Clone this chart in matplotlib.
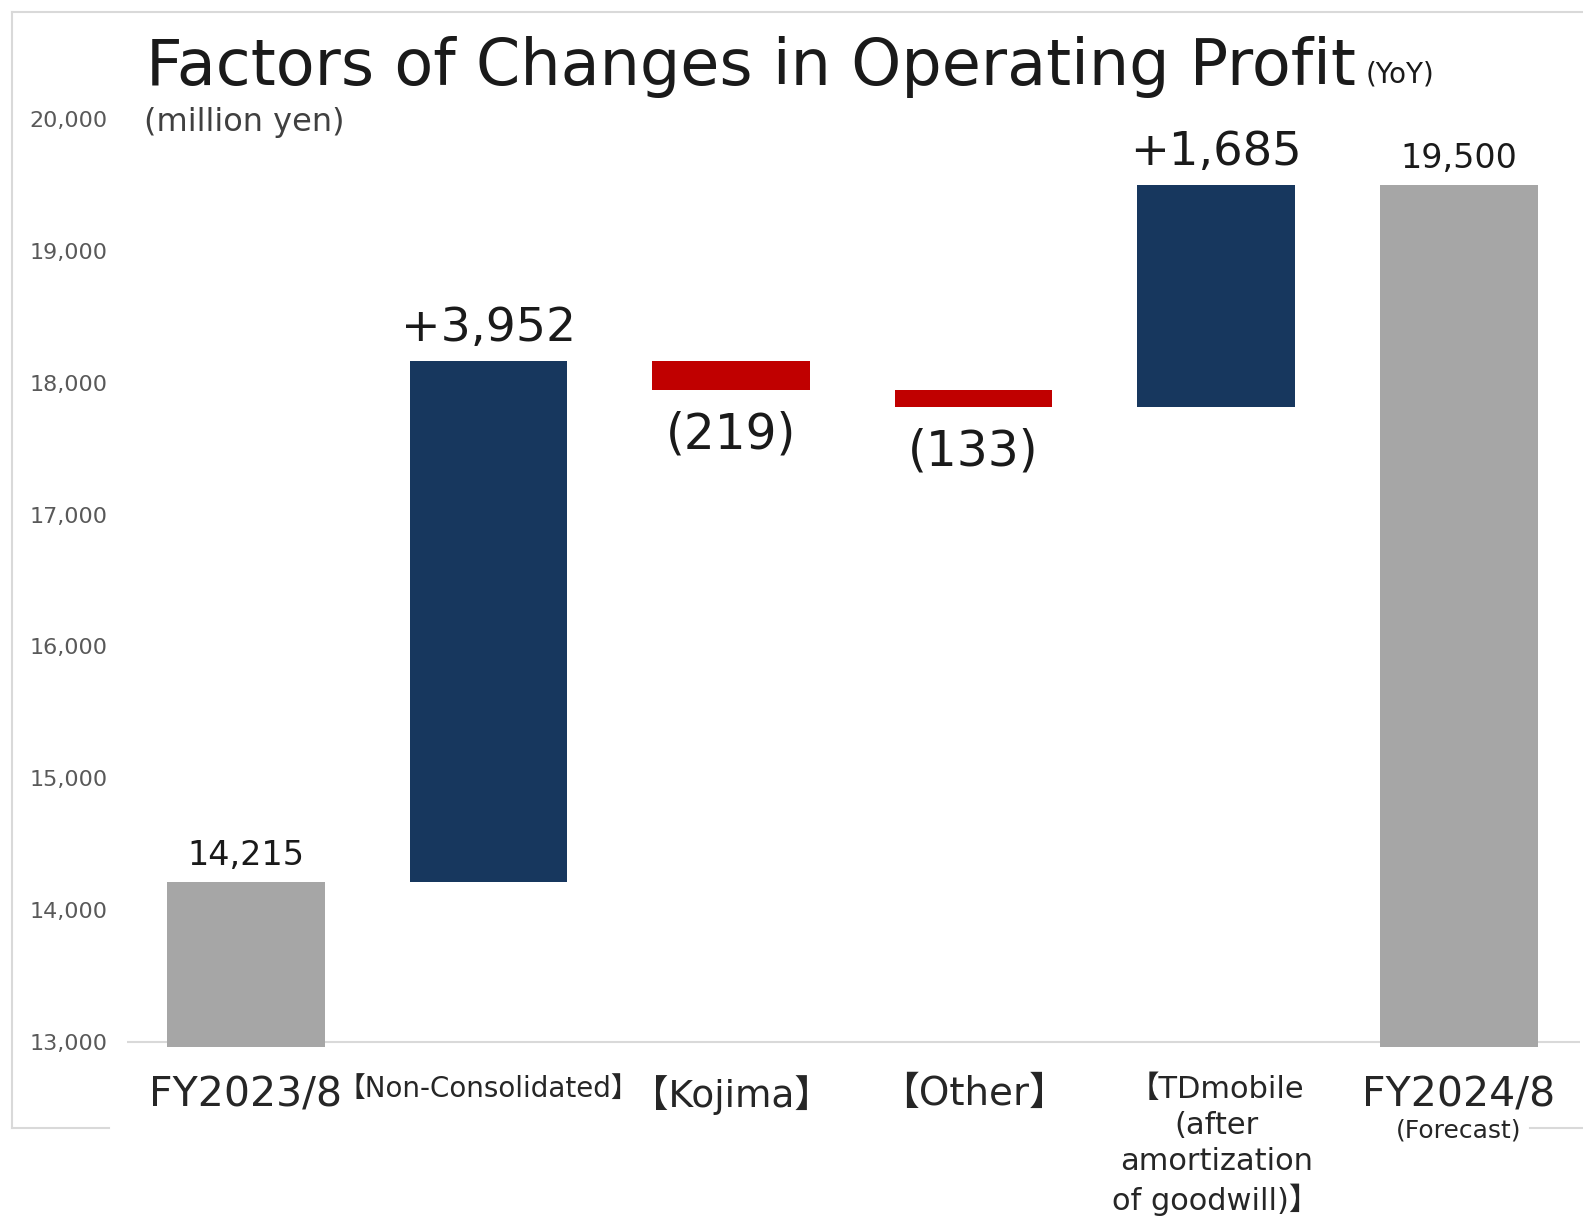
import numpy as np
import matplotlib
matplotlib.use('Agg')
import matplotlib.pyplot as plt
from matplotlib.lines import Line2D

plt.rcParams['font.family'] = ['DejaVu Sans', 'Noto Sans CJK JP']

# data
categories = ['FY2023/8', '【Non-Consolidated】', '【Kojima】', '【Other】',
              '【TDmobile\n(after\namortization\nof goodwill)】', 'FY2024/8']
start_value = 14215
changes = [3952, -219, -133, 1685]
end_value = 19500
value_labels = ['14,215', '+3,952', '(219)', '(133)', '+1,685', '19,500']
yticks = [13000, 14000, 15000, 16000, 17000, 18000, 19000, 20000]

GRAY = '#a6a6a6'
NAVY = '#17375e'
RED = '#c00000'

W, H = 1583, 1217
fig = plt.figure(figsize=(W / 100, H / 100), dpi=100)

def px(x, y):
    return x / W, 1 - y / H

ymin, ymax = 12960, 20000
ax_left, ax_right = 127, 1580
ax_top = 119
ax_bottom = 1042 + (13000 - ymin) * (1042 - 119) / 7000
ax = fig.add_axes([ax_left / W, 1 - ax_bottom / H, (ax_right - ax_left) / W, (ax_bottom - ax_top) / H])

# waterfall bottoms / heights
x = np.arange(len(categories))
running = np.cumsum([start_value] + changes)
bottoms, heights, colors = [ymin], [start_value - ymin], [GRAY]
for i, c in enumerate(changes):
    lo = min(running[i], running[i + 1])
    bottoms.append(lo)
    heights.append(abs(c))
    colors.append(NAVY if c > 0 else RED)
bottoms.append(ymin)
heights.append(end_value - ymin)
colors.append(GRAY)

ax.bar(x, heights, bottom=bottoms, width=0.65, color=colors, zorder=2)
ax.axhline(13000, color='#d9d9d9', lw=1.5, zorder=1)

ax.set_xlim(-0.49, 5.5)
ax.set_ylim(ymin, ymax)
ax.set_yticks(yticks)
ax.set_yticklabels([f'{v:,}' for v in yticks], fontsize=16, color='#595959')
ax.tick_params(axis='y', length=0, pad=14)
ax.set_xticks(x)
ax.set_xticklabels(categories, color='#262626', linespacing=1.3)
ax.tick_params(axis='x', length=0, pad=20)
label_sizes = [29.5, 20, 27, 28, 22, 29.5]
for t, s in zip(ax.get_xticklabels(), label_sizes):
    t.set_fontsize(s)
for s in ax.spines.values():
    s.set_visible(False)

# value labels
value_sizes = [24, 34, 35, 35, 33.5, 24]
for i in range(len(categories)):
    top = bottoms[i] + heights[i]
    if i in (2, 3):
        ax.annotate(value_labels[i], (x[i], bottoms[i]), xytext=(0, -15), textcoords='offset points',
                    ha='center', va='top', fontsize=value_sizes[i], color='#1a1a1a')
    else:
        ax.annotate(value_labels[i], (x[i], top), xytext=(0, 7), textcoords='offset points',
                    ha='center', va='bottom', fontsize=value_sizes[i], color='#1a1a1a')

ax.annotate('(Forecast)', (5, 0), xycoords=('data', 'axes fraction'), xytext=(0, -51),
            textcoords='offset points', ha='center', va='top', fontsize=18, color='#262626')

# titles
fig.text(*px(146, 85), 'Factors of Changes in Operating Profit', fontsize=45.8, color='#1a1a1a',
         ha='left', va='baseline')
fig.text(*px(1366, 83), '(YoY)', fontsize=20, color='#1a1a1a', ha='left', va='baseline')
fig.text(*px(144, 123), '(million yen)', fontsize=23, color='#404040', ha='left', va='center')

# outer frame
fc = '#d9d9d9'
for xs, ys in [((12, W), (12, 12)), ((12, 12), (12, 1128)), ((12, 109), (1128, 1128)), ((1530, W), (1128, 1128))]:
    fig.add_artist(Line2D([xx / W for xx in xs], [1 - yy / H for yy in ys], color=fc, lw=1.5))

fig.savefig('out.png', dpi=100)
